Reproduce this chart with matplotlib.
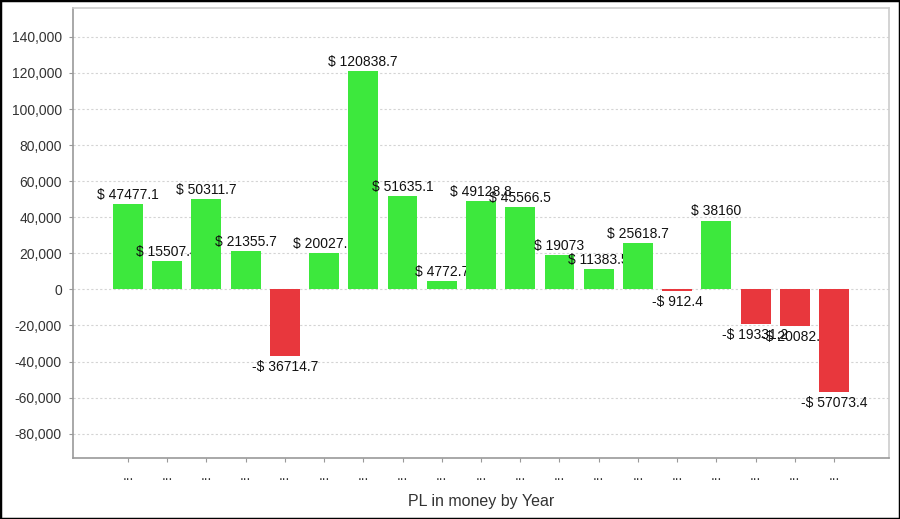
import matplotlib.pyplot as plt
import numpy as np
from matplotlib.patches import Rectangle

plt.rcParams['font.family'] = ['Liberation Sans', 'DejaVu Sans']

# PL values per year (labels on the axis are hidden as "...")
years = ["..."] * 19
pl_values = [47477.1, 15507.4, 50311.7, 21355.7, -36714.7, 20027.5, 120838.7,
             51635.1, 4772.7, 49128.8, 45566.5, 19073, 11383.5, 25618.7,
             -912.4, 38160, -19331.2, -20082.3, -57073.4]
y_ticks = [-80000, -60000, -40000, -20000, 0, 20000, 40000, 60000,
           80000, 100000, 120000, 140000]

green = '#3de83d'
red = '#e8373d'


def money(v):
    s = ('%.1f' % abs(v)).rstrip('0').rstrip('.')
    return ("$ " if v >= 0 else "-$ ") + s


fig = plt.figure(figsize=(9, 5.19), dpi=100)
ax = fig.add_axes([73/900, 1 - 458/519, (889-73)/900, (458-8)/519])

x = np.arange(len(pl_values))
colors = [green if v >= 0 else red for v in pl_values]
bars = ax.bar(x, pl_values, width=0.76, color=colors)

# each label sits over its own bar and the bars before it,
# but under the next bars (like the original drawing order)
for i, (patch, v) in enumerate(zip(bars.patches, pl_values)):
    patch.set_zorder(3 + 2 * i)
    if v >= 0:
        ax.annotate(money(v), (x[i], v), xytext=(0, 1.5), textcoords='offset points',
                    ha='center', va='bottom', fontsize=10, color='#111111',
                    zorder=4 + 2 * i)
    else:
        ax.annotate(money(v), (x[i], v), xytext=(0, -3), textcoords='offset points',
                    ha='center', va='top', fontsize=10, color='#111111',
                    zorder=4 + 2 * i)

ax.set_xlim(-1.4, len(pl_values) - 1 + 1.4)
ax.set_ylim(-93500, 156000)
ax.set_yticks(y_ticks)
ax.set_yticklabels(["{:,}".format(t) for t in y_ticks])
ax.set_xticks(x)
ax.set_xticklabels(years)

ax.yaxis.grid(True, color='#d4d4d4', linestyle=(0, (2, 2)), linewidth=0.8, zorder=0)
ax.set_axisbelow(True)

ax.tick_params(axis='y', labelsize=10, labelcolor='#333333', length=3,
               color='#999999', pad=5)
ax.tick_params(axis='x', labelsize=10, labelcolor='#333333', length=3,
               color='#999999', pad=5)

for side in ['left', 'bottom']:
    ax.spines[side].set_color('#999999')
    ax.spines[side].set_linewidth(1.2)
for side in ['top', 'right']:
    ax.spines[side].set_color('#cccccc')
    ax.spines[side].set_linewidth(1.2)

ax.set_xlabel('PL in money by Year', fontsize=11.5, color='#333333', labelpad=8)

# black frame around the whole picture
fig.patches.append(Rectangle((0, 0), 1, 1, transform=fig.transFigure,
                             fill=False, edgecolor='black', linewidth=2.5))

fig.savefig('out.png', dpi=100)
